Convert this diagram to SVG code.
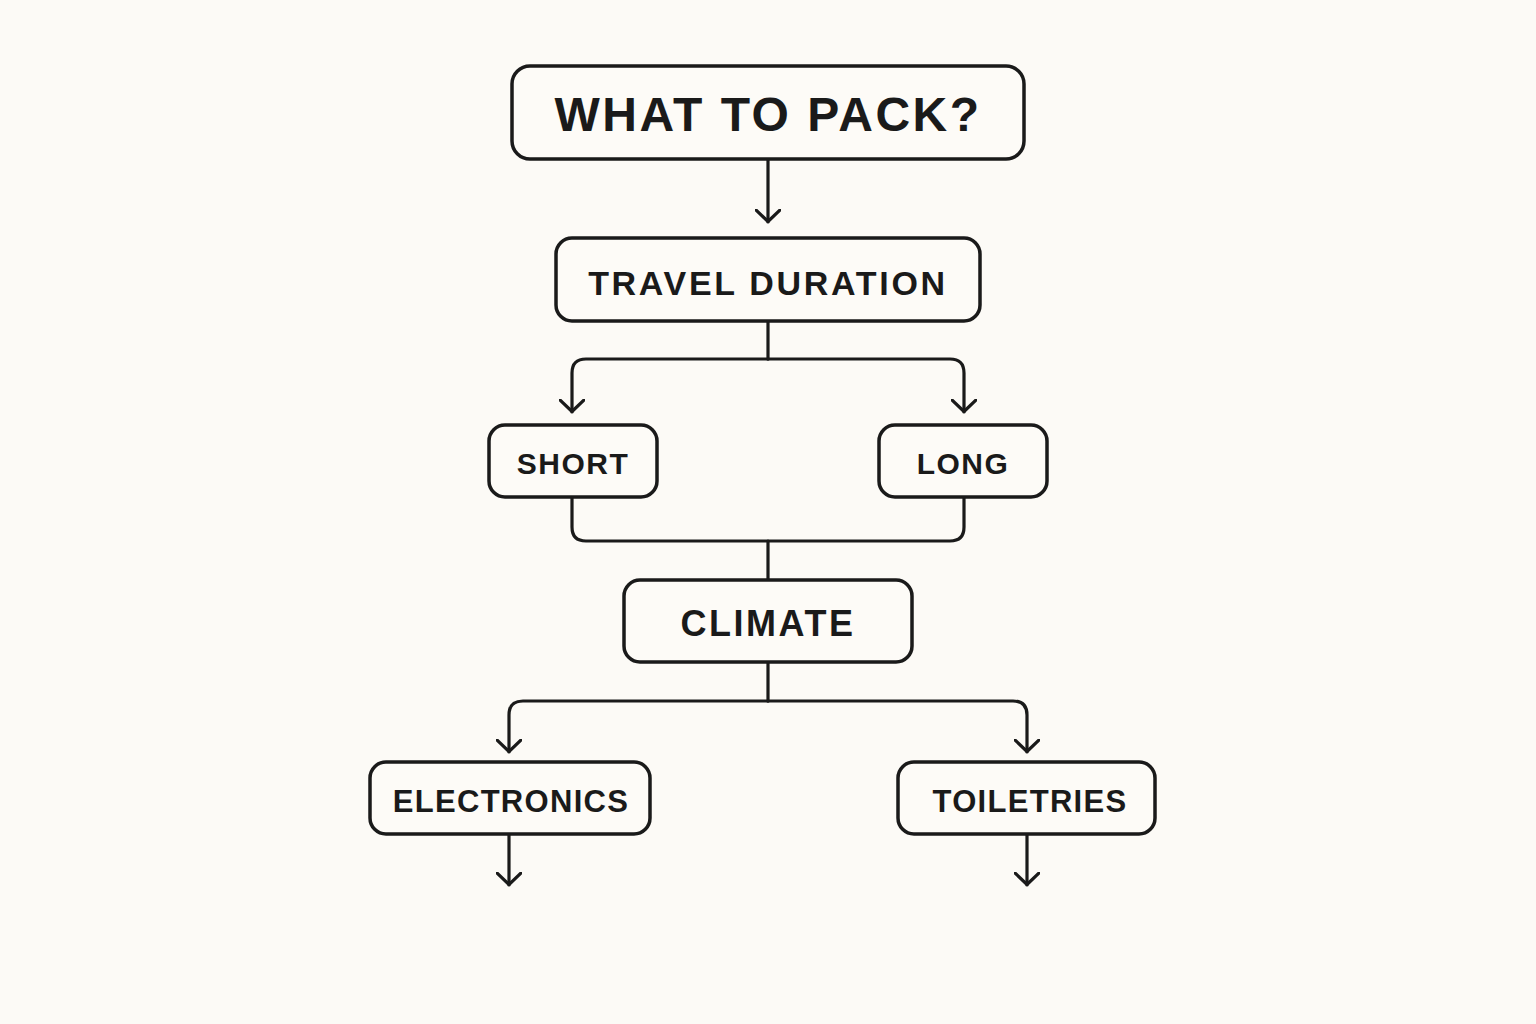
<svg xmlns="http://www.w3.org/2000/svg" width="1536" height="1024" viewBox="0 0 1536 1024">
<defs>
<style>
.box{fill:#fdfbf7;stroke:#1a1a1a;stroke-width:3.5}
.lbl{font-family:"Liberation Sans",Arial,sans-serif;font-weight:bold;fill:#1a1a1a;text-anchor:middle}
.ln{fill:none;stroke:#1a1a1a;stroke-width:3.2;stroke-linecap:round;stroke-linejoin:round}
</style>
<marker id="arr" viewBox="0 0 14 26" refX="13" refY="13" markerWidth="14" markerHeight="26" markerUnits="userSpaceOnUse" orient="auto">
<path d="M1,1 L12.5,13 L1,25" fill="none" stroke="#1a1a1a" stroke-width="3.2" stroke-linecap="round" stroke-linejoin="round"/>
</marker>
</defs>
<rect width="1536" height="1024" fill="#fcfaf6"/>
<g id="connectors">
<path class="ln" d="M768,159 V222" marker-end="url(#arr)"/>
<path class="ln" d="M768,321 V359"/>
<path class="ln" d="M768,359 H586 Q572,359 572,373 V412" marker-end="url(#arr)"/>
<path class="ln" d="M768,359 H950 Q964,359 964,373 V412" marker-end="url(#arr)"/>
<path class="ln" d="M572,497 V527 Q572,541 586,541 H950 Q964,541 964,527 V497"/>
<path class="ln" d="M768,541 V580"/>
<path class="ln" d="M768,662 V701"/>
<path class="ln" d="M768,701 H523 Q509,701 509,715 V752" marker-end="url(#arr)"/>
<path class="ln" d="M768,701 H1013 Q1027,701 1027,715 V752" marker-end="url(#arr)"/>
<path class="ln" d="M509,834 V885" marker-end="url(#arr)"/>
<path class="ln" d="M1027,834 V885" marker-end="url(#arr)"/>
</g>
<g id="node-what">
<rect class="box" x="512" y="66" width="512" height="93" rx="18"/>
<text class="lbl" x="768" y="131" font-size="48" letter-spacing="2.5">WHAT TO PACK?</text>
</g>
<g id="node-duration">
<rect class="box" x="556" y="238" width="424" height="83" rx="16"/>
<text class="lbl" x="768" y="295" font-size="34" letter-spacing="2.7">TRAVEL DURATION</text>
</g>
<g id="node-short">
<rect class="box" x="489" y="425" width="168" height="72" rx="16"/>
<text class="lbl" x="573" y="474" font-size="30" letter-spacing="1.5">SHORT</text>
</g>
<g id="node-long">
<rect class="box" x="879" y="425" width="168" height="72" rx="16"/>
<text class="lbl" x="963" y="474" font-size="30" letter-spacing="1.5">LONG</text>
</g>
<g id="node-climate">
<rect class="box" x="624" y="580" width="288" height="82" rx="16"/>
<text class="lbl" x="768" y="636" font-size="36" letter-spacing="2.5">CLIMATE</text>
</g>
<g id="node-electronics">
<rect class="box" x="370" y="762" width="280" height="72" rx="16"/>
<text class="lbl" x="511" y="812" font-size="31" letter-spacing="1.3">ELECTRONICS</text>
</g>
<g id="node-toiletries">
<rect class="box" x="898" y="762" width="257" height="72" rx="16"/>
<text class="lbl" x="1030" y="812" font-size="31" letter-spacing="1.3">TOILETRIES</text>
</g>
</svg>
